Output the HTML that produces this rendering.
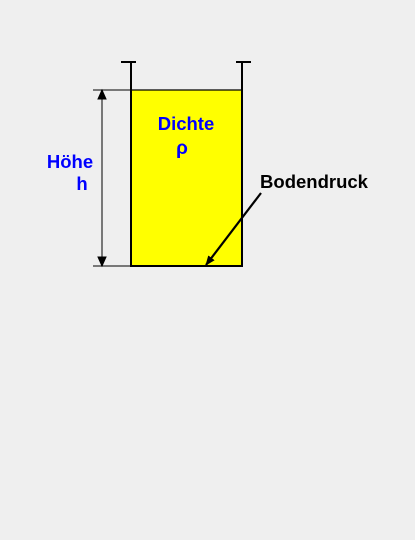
<!DOCTYPE html>
<html><head><meta charset="utf-8"><style>
html,body{margin:0;padding:0;background:#efefef;}
svg{display:block;}
text{font-family:"Liberation Sans",Arial,sans-serif;font-weight:bold;}
</style></head><body>
<svg width="415" height="540" viewBox="0 0 415 540">
<defs>
<marker id="ah" markerWidth="10" markerHeight="10" refX="9" refY="5" orient="auto" markerUnits="userSpaceOnUse">
<path d="M0,1 L10,5 L0,9 Z" fill="#000"/></marker>
</defs>
<rect x="130" y="90" width="112" height="176" fill="#ffff00"/>
<g stroke="#000" stroke-width="2" fill="none">
<path d="M121,62 H136 M236,62 H251"/>
<path d="M131,62 V266 H242 V62"/>
</g>
<line x1="131" y1="90" x2="242" y2="90" stroke="#000" stroke-width="1.2"/>
<g stroke="#000" stroke-width="1">
<line x1="93" y1="90" x2="130" y2="90"/>
<line x1="93" y1="266" x2="130" y2="266"/>
<line x1="102" y1="92" x2="102" y2="264"/>
<path d="M102,90 L98,99 L106,99 Z" fill="#000"/>
<path d="M102,266 L98,257 L106,257 Z" fill="#000"/>
</g>
<text x="186" y="130" font-size="18.5" fill="#0000ff" text-anchor="middle">Dichte</text>
<text x="182" y="154" font-size="19" fill="#0000ff" text-anchor="middle">ρ</text>
<text x="70" y="168" font-size="18.5" fill="#0000ff" text-anchor="middle">Höhe</text>
<text x="82" y="190" font-size="18.5" fill="#0000ff" text-anchor="middle">h</text>
<text x="314" y="188" font-size="18.5" fill="#000" text-anchor="middle">Bodendruck</text>
<line x1="261" y1="193" x2="206" y2="265" stroke="#000" stroke-width="2.2" marker-end="url(#ah)"/>
</svg>
</body></html>
